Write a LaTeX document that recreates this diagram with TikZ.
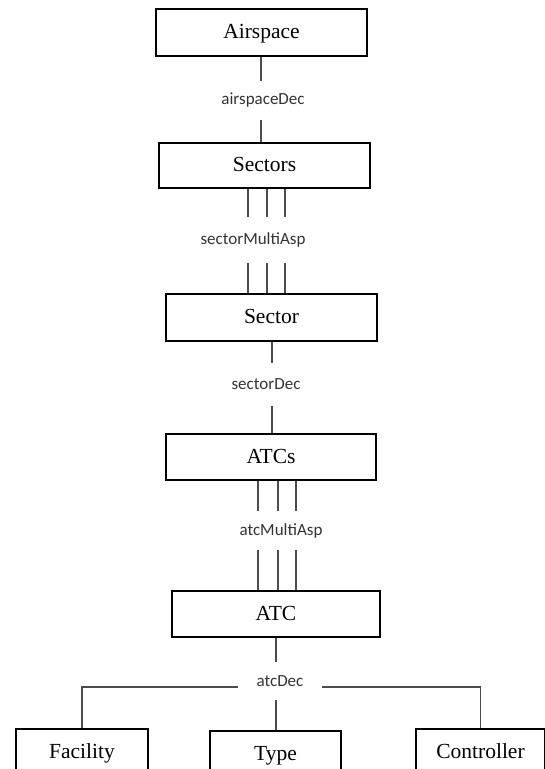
\documentclass[tikz,border=0pt]{standalone}
\usepackage{fontspec}
\setmainfont{Liberation Serif}
\newfontfamily\labfont{Carlito}
\begin{document}
\begin{tikzpicture}[x=1pt,y=-1pt,
  box/.style={draw=black,line width=1.8pt,fill=white,inner sep=0pt,
    text height=16pt,text depth=4pt,
    font=\fontsize{21.5}{25}\selectfont},
  lab/.style={draw=none,inner sep=0pt,text=black!80,
    font=\labfont\fontsize{17}{20}\selectfont},
  conn/.style={draw=black!70,line width=1.3pt}]
\useasboundingbox (0,0) rectangle (545,769);
\clip (0,0) rectangle (545,769);
\fill[white] (0,0) rectangle (545,769);

% boxes
\node[box,minimum width=211pt,minimum height=47pt] (air) at (261.5,32.5) {Airspace};
\node[box,minimum width=211pt,minimum height=45pt] (secs) at (264.5,165.5) {Sectors};
\node[box,minimum width=211pt,minimum height=47pt] (sec) at (271.5,317.5) {Sector};
\node[box,minimum width=210pt,minimum height=46pt] (atcs) at (271,457) {ATCs};
\node[box,minimum width=208pt,minimum height=46pt] (atc) at (276,614) {ATC};
\node[box,minimum width=132pt,minimum height=46pt] (fac) at (82,752) {Facility};
\node[box,minimum width=131pt,minimum height=46pt] (typ) at (275.5,754) {Type};
\node[box,minimum width=129pt,minimum height=46pt] (ctl) at (480.5,752) {Controller};

% labels
\node[lab,minimum width=90pt,minimum height=39pt] (airdec) at (263,100.5) {airspaceDec};
\node[lab,minimum width=110pt,minimum height=46pt] (secmulti) at (253,240) {sectorMultiAsp};
\node[lab,minimum width=72pt,minimum height=43pt] (secdec) at (266,384.5) {sectorDec};
\node[lab,minimum width=90pt,minimum height=39pt] (atcmulti) at (281,530.5) {atcMultiAsp};
\node[lab,minimum width=83.5pt,minimum height=38pt] (atcdec) at (280,681) {atcDec};

% x positions of the connectors
\coordinate (xa) at (261,0);
\coordinate (s1) at (248,0);
\coordinate (s2) at (267,0);
\coordinate (s3) at (285,0);
\coordinate (xs) at (272,0);
\coordinate (a1) at (258,0);
\coordinate (a2) at (278,0);
\coordinate (a3) at (296,0);
\coordinate (xt) at (276,0);
\coordinate (hy) at (0,687);

% Airspace -- Sectors
\draw[conn] (air.south -| xa) -- (airdec.north -| xa);
\draw[conn] (airdec.south -| xa) -- (secs.north -| xa);

% Sectors -- Sector (multi)
\foreach \c in {s1,s2,s3}{
  \draw[conn] (secs.south -| \c) -- (secmulti.north -| \c);
  \draw[conn] (secmulti.south -| \c) -- (sec.north -| \c);
}

% Sector -- ATCs
\draw[conn] (sec.south -| xs) -- (secdec.north -| xs);
\draw[conn] (secdec.south -| xs) -- (atcs.north -| xs);

% ATCs -- ATC (multi)
\foreach \c in {a1,a2,a3}{
  \draw[conn] (atcs.south -| \c) -- (atcmulti.north -| \c);
  \draw[conn] (atcmulti.south -| \c) -- (atc.north -| \c);
}

% ATC -- children
\draw[conn] (atc.south -| xt) -- (atcdec.north -| xt);
\draw[conn] (atcdec.south -| xt) -- (typ.north -| xt);
\draw[conn] (atcdec.west |- hy) -| (fac.north);
\draw[conn] (atcdec.east |- hy) -| (ctl.north);
\end{tikzpicture}
\end{document}
